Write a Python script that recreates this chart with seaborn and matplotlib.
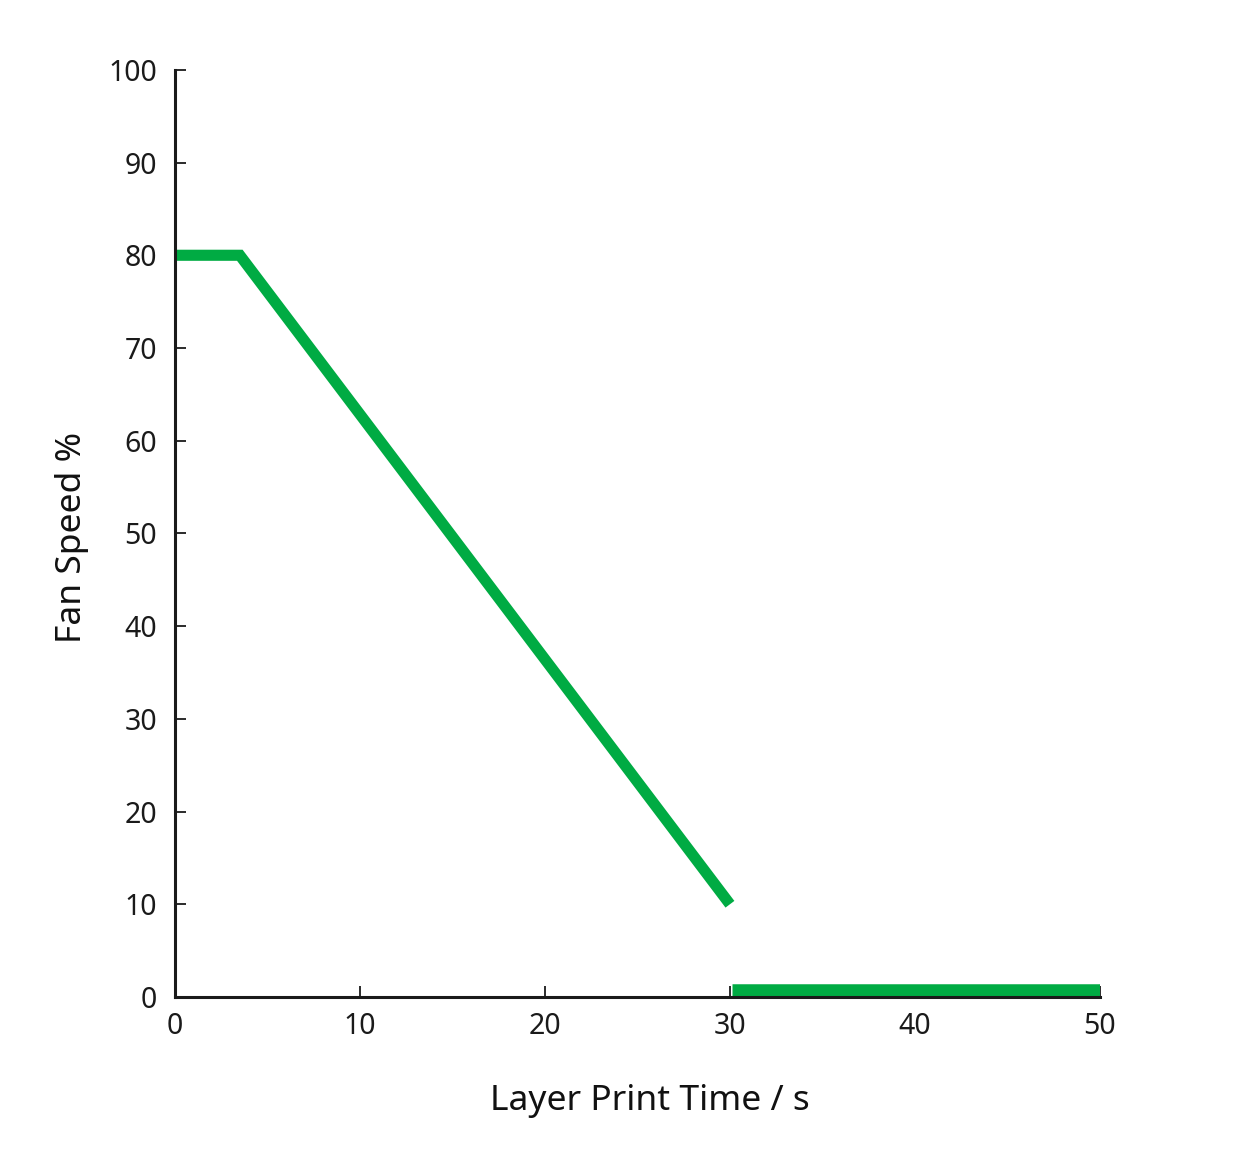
import pandas as pd
import matplotlib
matplotlib.use("Agg")
import matplotlib.pyplot as plt
import seaborn as sns

# fan speed curve
ramp_time = [0, 3.5, 30]
ramp_speed = [80, 80, 10]
idle_time = [30.1, 50]
idle_speed = [0.7, 0.7]

x_ticks = [0, 10, 20, 30, 40, 50]
y_ticks = [0, 10, 20, 30, 40, 50, 60, 70, 80, 90, 100]

green = "#00ab43"

sns.set_style("ticks")
plt.rcParams['font.family'] = ['Noto Sans', 'DejaVu Sans']

fig = plt.figure(figsize=(12.33, 11.64), dpi=100)
ax = fig.add_axes([0.142, 0.1435, 0.750, 0.7965])

ramp = pd.DataFrame({"time": ramp_time, "speed": ramp_speed})
idle = pd.DataFrame({"time": idle_time, "speed": idle_speed})
sns.lineplot(data=ramp, x="time", y="speed", ax=ax, color=green, linewidth=8,
             sort=False, solid_capstyle="butt", solid_joinstyle="miter")
sns.lineplot(data=idle, x="time", y="speed", ax=ax, color=green, linewidth=9,
             sort=False, solid_capstyle="butt")

ax.set_xlim(0, 50)
ax.set_ylim(0, 100)
ax.set_xticks(x_ticks)
ax.set_yticks(y_ticks)
ax.set_xticklabels([str(t) for t in x_ticks])
ax.set_yticklabels([str(t) for t in y_ticks])

sns.despine(ax=ax)
for side in ["left", "bottom"]:
    ax.spines[side].set_linewidth(2.2)
    ax.spines[side].set_color("#1a1a1a")
ax.tick_params(direction="in", length=8, width=1.3, color="#1a1a1a",
               labelsize=20.5, labelcolor="#1a1a1a")
ax.tick_params(axis="x", pad=11)
ax.tick_params(axis="y", pad=13)

ax.set_xlabel("Layer Print Time / s", fontsize=25.5, color="#111111")
ax.set_ylabel("Fan Speed %", fontsize=25.5, color="#111111")
ax.xaxis.set_label_coords(0.5135, -0.094)
ax.yaxis.set_label_coords(-0.093, 0.496)

fig.savefig("out.png", dpi=100)
plt.close()
